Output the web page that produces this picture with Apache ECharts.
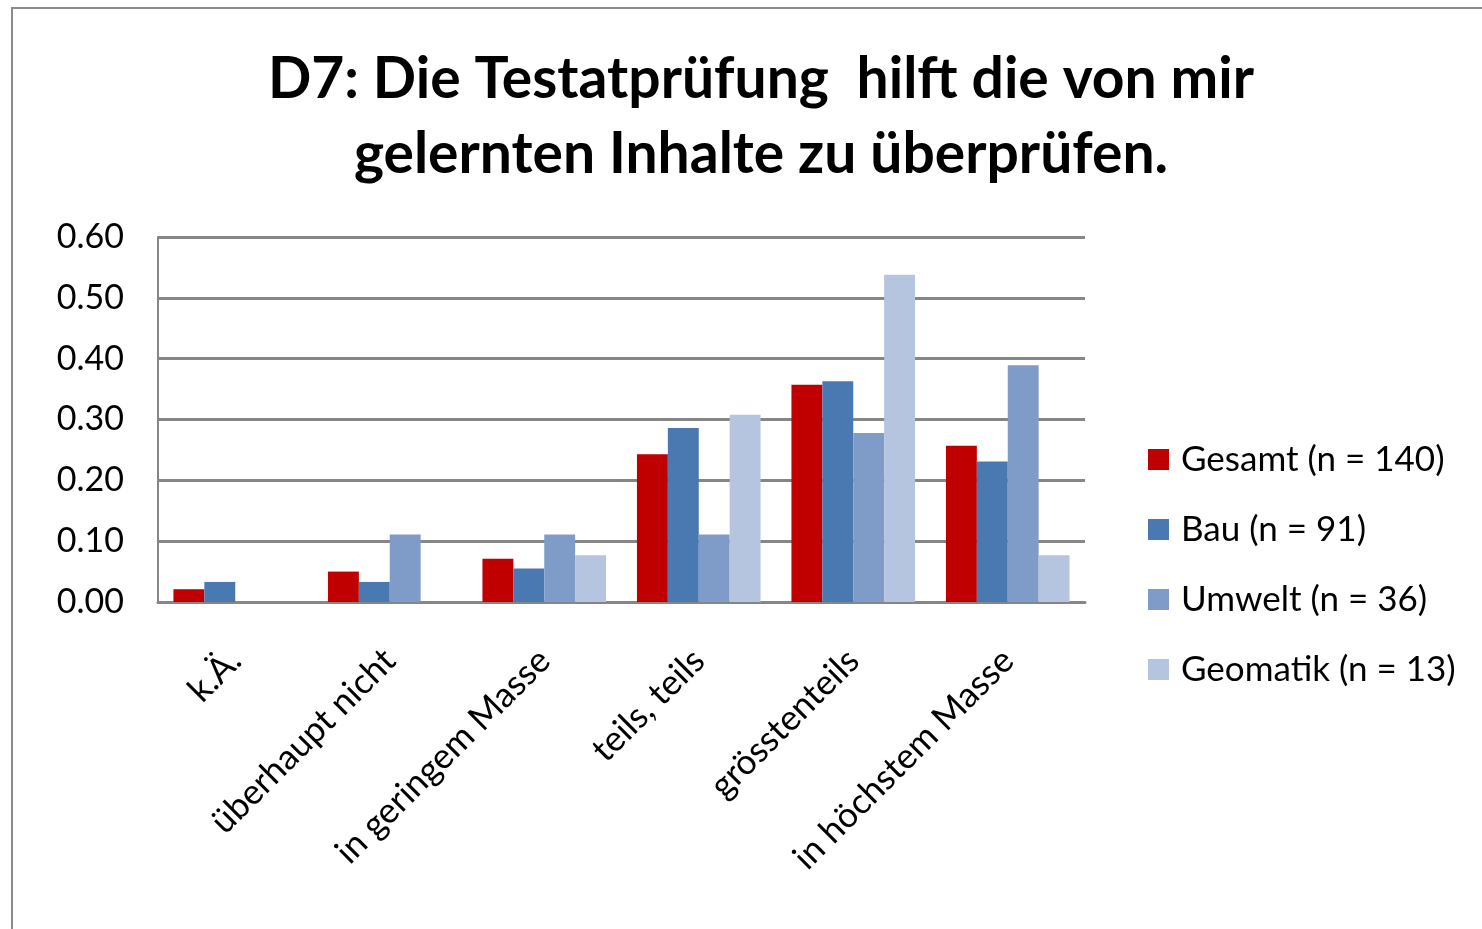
<!DOCTYPE html>
<html>
<head>
<meta charset="utf-8">
<script src="https://cdn.jsdelivr.net/npm/echarts@6/dist/echarts.min.js"></script>
<style>
  html, body { margin: 0; padding: 0; background: #fff; overflow: hidden; }
  #frame {
    position: absolute; left: 11px; top: 7px;
    width: 1500px; height: 960px;
    border: 2px solid #8c8c8c;
  }
  #main { position: absolute; left: 0; top: 0; width: 1482px; height: 929px; }
</style>
</head>
<body>
<div id="frame"></div>
<div id="main"></div>
<script>
// Anteile je Antwortkategorie
var categories = ["k.Ä.", "überhaupt nicht", "in geringem Masse", "teils, teils", "grösstenteils", "in höchstem Masse"];
var gesamt   = [0.021, 0.050, 0.071, 0.243, 0.357, 0.257];
var bau      = [0.033, 0.033, 0.055, 0.286, 0.363, 0.231];
var umwelt   = [0.000, 0.111, 0.111, 0.111, 0.278, 0.389];
var geomatik = [0.000, 0.000, 0.077, 0.308, 0.538, 0.077];
var seriesNames = ["Gesamt (n = 140)", "Bau (n = 91)", "Umwelt (n = 36)", "Geomatik (n = 13)"];
var colors = ["#C00000", "#4A79B1", "#7F9CC8", "#B5C4DF"];

var font = "Lato, 'Open Sans', sans-serif";
var chart = echarts.init(document.getElementById("main"));

function bar(name, data, color) {
  return {
    name: name,
    type: "bar",
    data: data,
    barGap: "0%",
    barCategoryGap: "20%",
    itemStyle: { color: color },
    emphasis: { disabled: true }
  };
}

chart.setOption({
  animation: false,
  textStyle: { fontFamily: font },
  title: {
    text: "D7: Die Testatprüfung  hilft die von mir\ngelernten Inhalte zu überprüfen.",
    left: 756,
    textAlign: "center",
    top: 37,
    textStyle: { fontSize: 57, fontWeight: "bold", color: "#000", lineHeight: 75, fontFamily: font }
  },
  legend: {
    orient: "vertical",
    left: 1148,
    top: 442,
    padding: 0,
    itemWidth: 21,
    itemHeight: 21,
    itemGap: 35,
    icon: "rect",
    textStyle: { fontSize: 35, color: "#000", fontFamily: font, padding: [0, 0, 0, 7] },
    data: seriesNames
  },
  grid: { left: 158, right: 397, top: 237, bottom: 327 },
  xAxis: {
    type: "category",
    data: categories,
    axisLine: { lineStyle: { color: "#868686", width: 3 } },
    axisTick: { show: false },
    axisLabel: { rotate: 45, fontSize: 35, color: "#000", margin: 53, interval: 0, fontFamily: font }
  },
  yAxis: {
    type: "value",
    min: 0,
    max: 0.6,
    interval: 0.1,
    axisLine: { show: true, lineStyle: { color: "#868686", width: 2 } },
    axisTick: { show: false },
    splitLine: { lineStyle: { color: "#868686", width: 3 } },
    axisLabel: {
      fontSize: 34, color: "#000", margin: 34, fontFamily: font,
      formatter: function (v) { return v.toFixed(2); }
    }
  },
  series: [
    bar(seriesNames[0], gesamt, colors[0]),
    bar(seriesNames[1], bau, colors[1]),
    bar(seriesNames[2], umwelt, colors[2]),
    bar(seriesNames[3], geomatik, colors[3])
  ]
});
</script>
</body>
</html>
